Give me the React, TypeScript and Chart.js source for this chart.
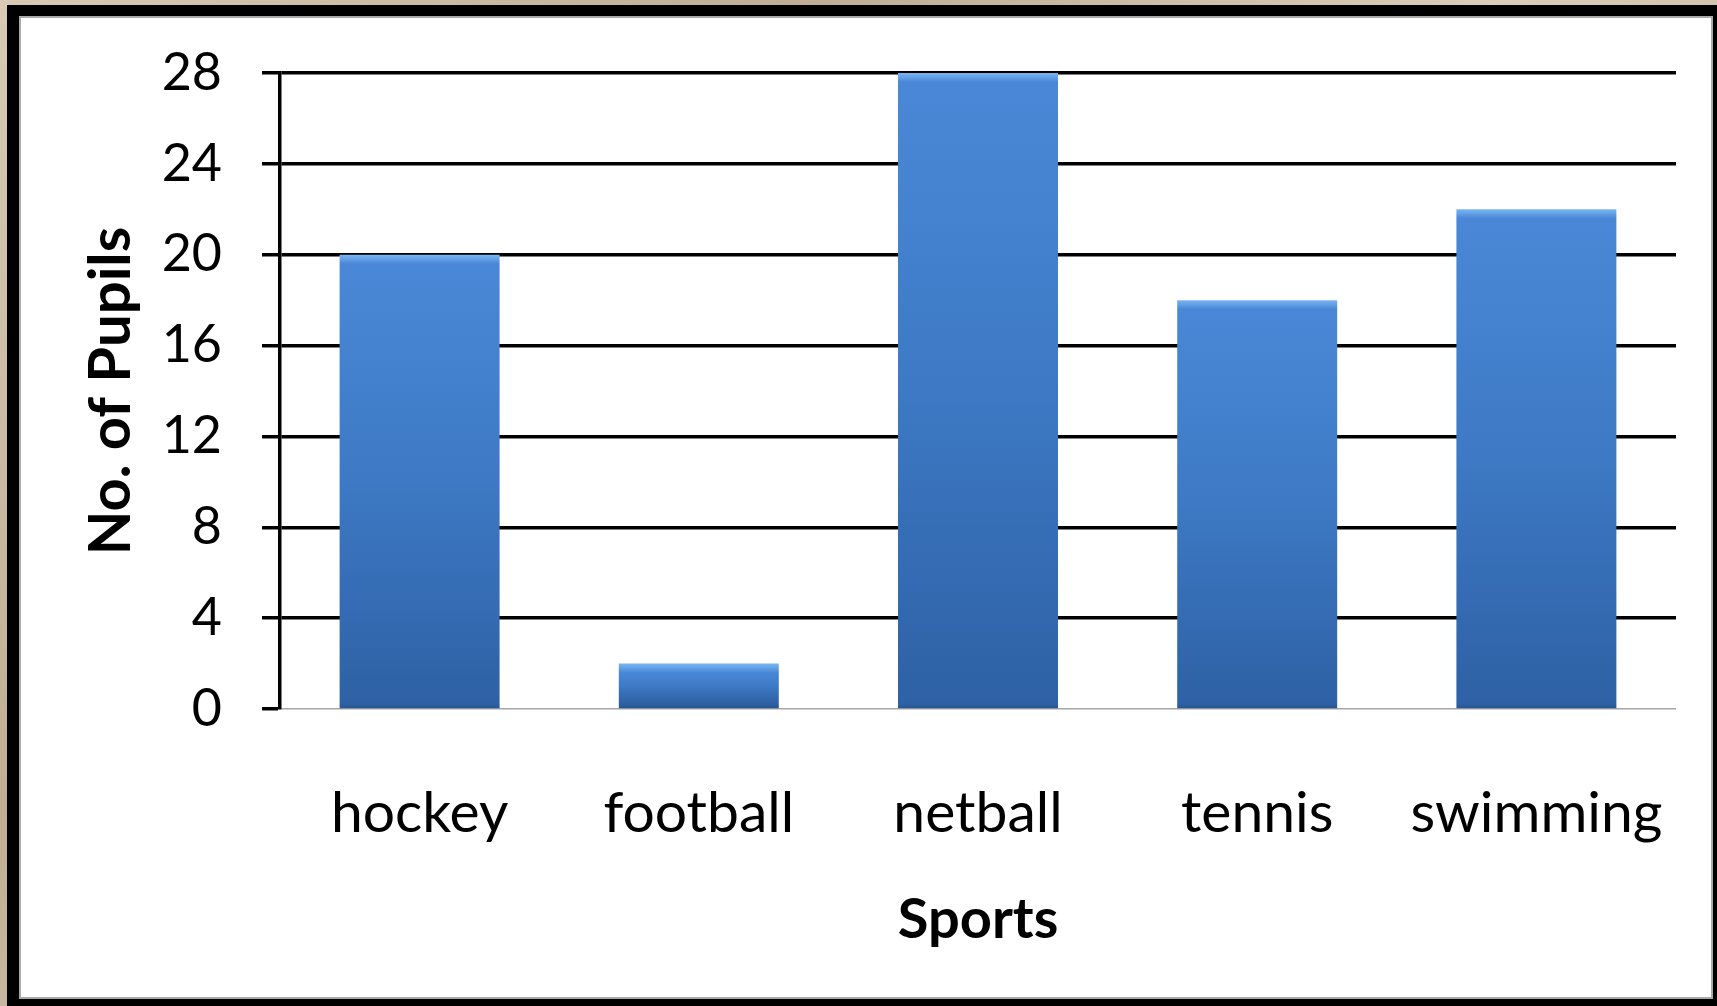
import React, { useEffect, useRef } from "react";
import { Chart, registerables } from "chart.js";

Chart.register(...registerables);

const categories = ["hockey", "football", "netball", "tennis", "swimming"];
const pupils = [20, 2, 28, 18, 22];
const yTicks = [0, 4, 8, 12, 16, 20, 24, 28];
const xTitle = "Sports";
const yTitle = "No. of Pupils";

export default function App() {
  const canvasRef = useRef<HTMLCanvasElement | null>(null);

  useEffect(() => {
    document.body.style.margin = "0";
    const canvas = canvasRef.current;
    if (!canvas) return;
    const chart = new Chart(canvas, {
      type: "bar",
      data: {
        labels: categories,
        datasets: [
          {
            data: pupils,
            barPercentage: 0.573,
            categoryPercentage: 1,
            borderWidth: 0,
            backgroundColor: (ctx: any) => {
              const c = ctx.chart;
              const y = c.scales && c.scales.y;
              if (ctx.type !== "data" || !y) return "#3d7bc9";
              const top = y.getPixelForValue(ctx.raw);
              const base = y.getPixelForValue(0);
              if (!isFinite(top) || !isFinite(base) || base - top < 1) return "#3d7bc9";
              const h = base - top;
              const g = c.ctx.createLinearGradient(0, top, 0, base);
              const b = Math.min(9 / h, 0.4);
              g.addColorStop(0, "#7ab6f2");
              g.addColorStop(b, "#4a88d7");
              g.addColorStop(0.5, "#3d79c4");
              g.addColorStop(Math.max(1 - 6 / h, 0.6), "#2e61a5");
              g.addColorStop(1, "#285592");
              return g;
            },
          },
        ],
      },
      options: {
        animation: false,
        responsive: true,
        maintainAspectRatio: false,
        layout: { padding: { top: 53, right: 34, left: 0, bottom: 0 } },
        plugins: {
          legend: { display: false },
          tooltip: { enabled: false },
        },
        scales: {
          x: {
            offset: true,
            grid: { display: false, drawTicks: false },
            border: { display: false },
            ticks: {
              padding: 70,
              color: "#000",
              font: { family: "Lato", size: 57 },
            },
            title: {
              display: true,
              text: xTitle,
              color: "#000",
              font: { family: "Lato", size: 56, weight: "bold" },
              padding: { top: 0, bottom: 42 },
            },
            afterFit: (s: any) => {
              s.height = 287;
              s.paddingLeft = 0;
              s.paddingRight = 0;
            },
          },
          y: {
            min: 0,
            max: 28,
            afterBuildTicks: (s: any) => {
              s.ticks = yTicks.map((v) => ({ value: v }));
            },
            grid: {
              color: (ctx: any) => (ctx.tick && ctx.tick.value === 0 ? "#a6a6a6" : "#000"),
              lineWidth: (ctx: any) => (ctx.tick && ctx.tick.value === 0 ? 1.5 : 3.5),
              tickColor: "#000",
              tickWidth: 3.5,
              tickLength: 18,
              drawTicks: true,
            },
            border: { display: true, color: "#000", width: 3.5 },
            ticks: {
              padding: 40,
              color: "#000",
              font: { family: "Lato", size: 52 },
            },
            title: {
              display: true,
              text: yTitle,
              color: "#000",
              font: { family: "Lato", size: 58, weight: "bold" },
              padding: { top: 54, bottom: 0 },
            },
            afterFit: (s: any) => {
              s.width = 258;
              s.paddingTop = 0;
              s.paddingBottom = 0;
            },
          },
        },
      },
    });
    return () => chart.destroy();
  }, []);

  return (
    <div
      style={{
        position: "fixed",
        left: 0,
        top: 0,
        width: 1717,
        height: 1006,
        overflow: "hidden",
        background:
          "linear-gradient(135deg, #d8cab4 0%, #bfae93 30%, #dacdb9 55%, #c2b197 80%, #d3c5ae 100%)",
      }}
    >
      <div
        style={{
          position: "absolute",
          left: 7,
          top: 5,
          width: 1730,
          height: 1020,
          background: "#000",
        }}
      />
      <div
        style={{
          position: "absolute",
          left: 19,
          top: 16,
          width: 1694,
          height: 983,
          boxSizing: "border-box",
          border: "2px solid #a9a9a9",
          background: "#fff",
        }}
      />
      <div
        style={{
          position: "absolute",
          left: 22,
          top: 20,
          width: 1688,
          height: 976,
        }}
      >
        <canvas ref={canvasRef} />
      </div>
    </div>
  );
}
